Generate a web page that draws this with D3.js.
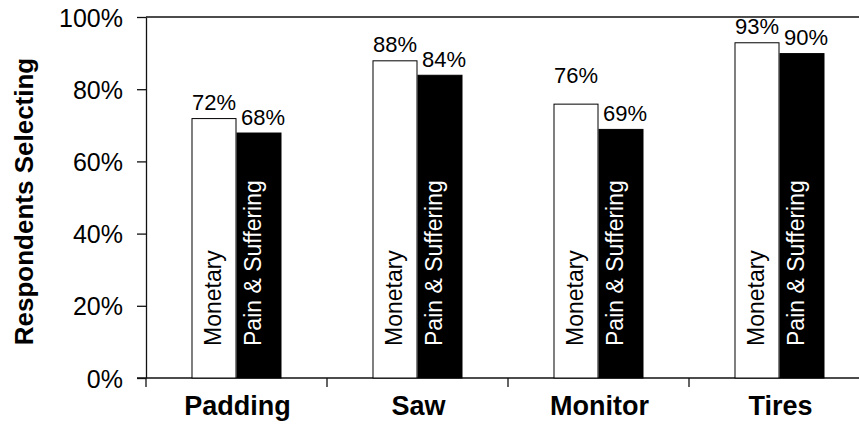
<!DOCTYPE html>
<html>
<head>
<meta charset="utf-8">
<script src="https://cdn.jsdelivr.net/npm/d3@7"></script>
<style>
  body { margin: 0; background: #fff; }
  svg { display: block; }
  text { font-family: "Liberation Sans", Arial, Helvetica, sans-serif; fill: #000; }
</style>
</head>
<body>
<svg id="chart" width="859" height="425"></svg>
<script>
// Share of respondents selecting each award type, by product
const categories = ["Padding", "Saw", "Monitor", "Tires"];
const series = ["Monetary", "Pain & Suffering"];
const monetary = [0.72, 0.88, 0.76, 0.93];
const painSuffering = [0.68, 0.84, 0.69, 0.90];
const yTicks = [0, 0.2, 0.4, 0.6, 0.8, 1.0];
const yTitle = "Respondents Selecting";

const pct = d3.format(".0%");

const svg = d3.select("#chart");
const plot = { left: 146, right: 870, top: 17, bottom: 378 };

const x0 = d3.scaleBand().domain(categories).range([plot.left, plot.right]).padding(0);
const x1 = d3.scaleBand().domain(series).range([0, x0.bandwidth()])
  .paddingInner(0).paddingOuter(1.011);
const y = d3.scaleLinear().domain([0, 1]).range([plot.bottom, plot.top]);

const rows = categories.flatMap((c, i) => [
  { cat: c, s: series[0], v: monetary[i] },
  { cat: c, s: series[1], v: painSuffering[i] }
]);

// ---- axes ----
const yAxis = d3.axisLeft(y).tickValues(yTicks).tickSize(9).tickSizeOuter(0)
  .tickPadding(14).tickFormat(pct);
const gy = svg.append("g").attr("transform", `translate(${plot.left},0)`).call(yAxis);
gy.select(".domain").attr("stroke", "#111").attr("stroke-width", 1.3);
gy.selectAll(".tick line").attr("stroke", "#111").attr("stroke-width", 1.3);
gy.selectAll(".tick text")
  .attr("dy", "0.36em")
  .style("font-size", "25px")
  .style("font-family", '"Liberation Sans", Arial, Helvetica, sans-serif')
  .attr("fill", "#000");

// top frame line and baseline
svg.append("line")
  .attr("x1", plot.left).attr("x2", plot.right)
  .attr("y1", y(1)).attr("y2", y(1))
  .attr("stroke", "#111").attr("stroke-width", 1.3);
svg.append("line")
  .attr("x1", plot.left - 9).attr("x2", plot.right)
  .attr("y1", y(0)).attr("y2", y(0))
  .attr("stroke", "#111").attr("stroke-width", 1.3);

// category separators below the baseline
svg.append("g").selectAll("line")
  .data(categories.concat(["__end"]))
  .join("line")
  .attr("x1", d => d === "__end" ? plot.right : x0(d))
  .attr("x2", d => d === "__end" ? plot.right : x0(d))
  .attr("y1", y(0)).attr("y2", y(0) + 9)
  .attr("stroke", "#111").attr("stroke-width", 1.3);

// ---- bars ----
svg.append("g").selectAll("rect")
  .data(rows)
  .join("rect")
  .attr("x", d => x0(d.cat) + x1(d.s) + 0.5)
  .attr("y", d => y(d.v) + 0.5)
  .attr("width", x1.bandwidth() - 1)
  .attr("height", d => y(0) - y(d.v) - 0.5)
  .attr("fill", d => d.s === series[0] ? "#fff" : "#000")
  .attr("stroke", "#000")
  .attr("stroke-width", 1);

// ---- value labels above bars ----
const labelShift = { "Monetary": 0, "Pain & Suffering": 4 };
const labelLift = { "Monitor|Monetary": 13 };
svg.append("g").selectAll("text")
  .data(rows)
  .join("text")
  .attr("text-anchor", "middle")
  .style("font-size", "22px")
  .attr("x", d => x0(d.cat) + x1(d.s) + x1.bandwidth() / 2 + labelShift[d.s])
  .attr("y", d => y(d.v) - 8 - (labelLift[d.cat + "|" + d.s] || 0))
  .text(d => pct(d.v));

// ---- series names inside bars ----
const innerShift = { "Monetary": -1, "Pain & Suffering": -6 };
svg.append("g").selectAll("text")
  .data(rows)
  .join("text")
  .attr("text-anchor", "start")
  .attr("dy", "0.36em")
  .style("font-size", "23px")
  .style("fill", d => d.s === series[0] ? "#000" : "#fff")
  .attr("transform", d => {
    const cx = x0(d.cat) + x1(d.s) + x1.bandwidth() / 2 + innerShift[d.s];
    return `translate(${cx},${y(0) - 32}) rotate(-90)`;
  })
  .text(d => d.s);

// ---- category labels ----
svg.append("g").selectAll("text")
  .data(categories)
  .join("text")
  .attr("text-anchor", "middle")
  .style("font-size", "27px")
  .style("font-weight", "bold")
  .attr("x", d => x0(d) + x0.bandwidth() / 2 + 1)
  .attr("y", y(0) + 37)
  .text(d => d);

// ---- y axis title ----
svg.append("text")
  .attr("text-anchor", "middle")
  .style("font-size", "26px")
  .style("font-weight", "bold")
  .attr("transform", `translate(33,${(y(0) + y(1)) / 2 + 4}) rotate(-90)`)
  .text(yTitle);
</script>
</body>
</html>
